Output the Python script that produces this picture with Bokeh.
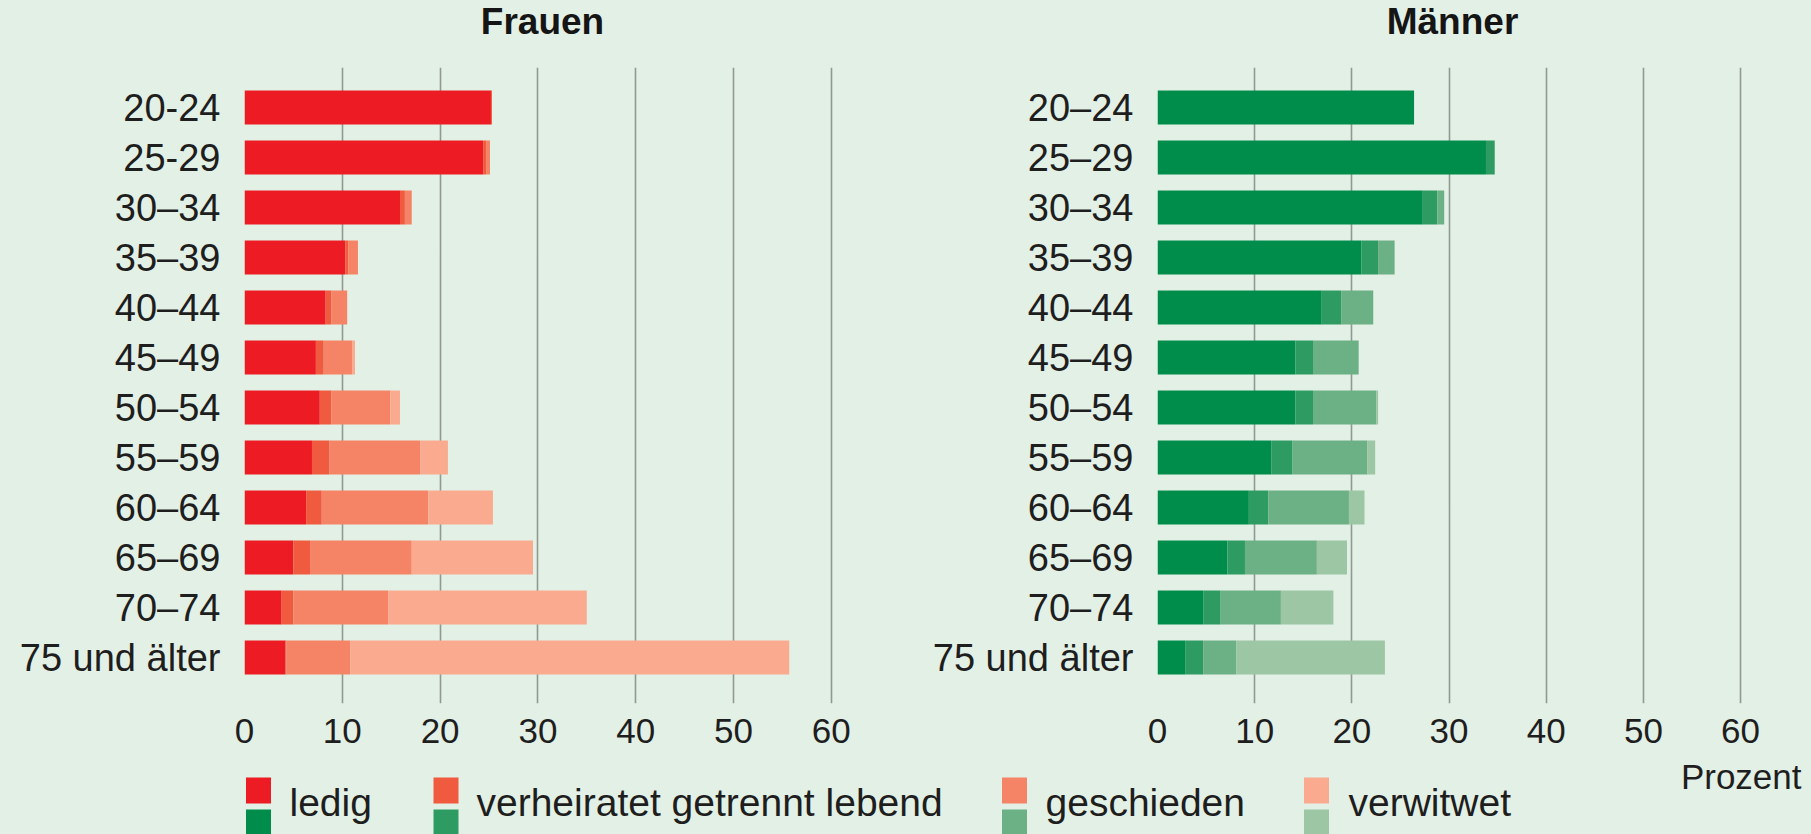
from bokeh.plotting import figure
from bokeh.layouts import row, column
from bokeh.models import ColumnDataSource, Range1d, FixedTicker
from bokeh.core.properties import value
from bokeh.embed import file_html
from bokeh.resources import INLINE

# ---------------- data ----------------
ages_f = ["20-24", "25-29", "30–34", "35–39", "40–44", "45–49", "50–54",
          "55–59", "60–64", "65–69", "70–74", "75 und älter"]
ages_m = ["20–24", "25–29", "30–34", "35–39", "40–44", "45–49", "50–54",
          "55–59", "60–64", "65–69", "70–74", "75 und älter"]
panel_titles = ["Frauen", "Männer"]
status = ["ledig", "verheiratet getrennt lebend", "geschieden", "verwitwet"]
unit_label = ["Prozent"]

f_ledig    = [25.2, 24.4, 15.9, 10.3, 8.3, 7.3, 7.7, 6.9, 6.3, 5.0, 3.8, 4.2]
f_getrennt = [0.1, 0.3, 0.5, 0.3, 0.6, 0.8, 1.2, 1.8, 1.6, 1.7, 1.2, 0.1]
f_gesch    = [0.0, 0.4, 0.7, 1.0, 1.6, 2.9, 6.0, 9.3, 10.9, 10.4, 9.7, 6.5]
f_verw     = [0.0, 0.0, 0.0, 0.0, 0.0, 0.3, 1.0, 2.8, 6.6, 12.4, 20.3, 44.9]

m_ledig    = [26.4, 33.8, 27.3, 21.0, 16.9, 14.2, 14.2, 11.7, 9.4, 7.2, 4.7, 2.9]
m_getrennt = [0.0, 0.9, 1.5, 1.7, 2.0, 1.8, 1.8, 2.2, 2.0, 1.8, 1.8, 1.8]
m_gesch    = [0.0, 0.0, 0.7, 1.7, 3.3, 4.7, 6.5, 7.7, 8.3, 7.4, 6.2, 3.4]
m_verw     = [0.0, 0.0, 0.0, 0.0, 0.0, 0.0, 0.2, 0.8, 1.6, 3.1, 5.4, 15.3]

x_ticks = [0, 10, 20, 30, 40, 50, 60]

# ---------------- style ----------------
BG = "#e3f0e5"
TXT = "#1e1e1e"
GRID = "#8f9a92"
FONT = "Liberation Sans"
red_cols = ["#ed1c24", "#f05a3e", "#f58466", "#f9aa8f"]
green_cols = ["#008c4a", "#2e9c62", "#6cb086", "#9dc6a5"]
keys = ["ledig", "getrennt", "gesch", "verw"]
TOP_H = 55


def strip(height, y0):
    s = figure(width=1811, height=height, output_backend="svg",
               toolbar_location=None,
               x_range=Range1d(0, 1811), y_range=Range1d(y0 + height, y0),
               min_border=0, min_border_left=0, min_border_right=0,
               min_border_top=0, min_border_bottom=0)
    s.title.visible = False
    s.axis.visible = False
    s.grid.visible = False
    s.background_fill_color = BG
    s.border_fill_color = BG
    s.outline_line_color = None
    return s


def panel(ages, vals, cols, width, border_left, border_right, xmax):
    src = ColumnDataSource(dict(y=list(range(len(ages))),
                                ledig=vals[0], getrennt=vals[1],
                                gesch=vals[2], verw=vals[3]))
    p = figure(width=width, height=755 - TOP_H, output_backend="svg",
               toolbar_location=None,
               x_range=Range1d(0, xmax),
               y_range=Range1d(len(ages) - 1 + 0.92, -0.8),
               min_border_left=border_left, min_border_right=border_right,
               min_border_top=67 - TOP_H, min_border_bottom=52)
    p.hbar_stack(keys, y="y", height=0.68, color=cols, line_color=None,
                 source=src)
    p.title.visible = False
    p.background_fill_color = BG
    p.border_fill_color = BG
    p.outline_line_color = None

    p.xaxis.ticker = FixedTicker(ticks=x_ticks)
    p.xaxis.axis_line_color = None
    p.xaxis.major_tick_line_color = None
    p.xaxis.major_tick_out = 0
    p.xaxis.major_tick_in = 0
    p.xaxis.minor_tick_line_color = None
    p.xaxis.major_label_standoff = 15
    p.xaxis.major_label_text_font = FONT
    p.xaxis.major_label_text_font_size = "35px"
    p.xaxis.major_label_text_color = TXT

    p.yaxis.ticker = FixedTicker(ticks=list(range(len(ages))))
    p.yaxis.major_label_overrides = {i: a for i, a in enumerate(ages)}
    p.yaxis.axis_line_color = None
    p.yaxis.major_tick_line_color = None
    p.yaxis.major_tick_out = 0
    p.yaxis.major_tick_in = 0
    p.yaxis.minor_tick_line_color = None
    p.yaxis.major_label_standoff = 24
    p.yaxis.major_label_text_font = FONT
    p.yaxis.major_label_text_font_size = "38px"
    p.yaxis.major_label_text_color = TXT

    p.ygrid.grid_line_color = None
    p.xgrid.ticker = FixedTicker(ticks=x_ticks)
    p.xgrid.grid_line_color = GRID
    p.xgrid.grid_line_width = 1.6
    return p


# ---------------- titles strip ----------------
top = strip(TOP_H, 0)
top.text(x=[542, 1452], y=[21, 21], text=panel_titles, text_font=value(FONT),
         text_font_size="37px", text_font_style="bold", text_color="#151515",
         text_align="center", text_baseline="alphabetic")

p1 = panel(ages_f, [f_ledig, f_getrennt, f_gesch, f_verw],
           red_cols, 900, 244, 60, 60.94)
p2 = panel(ages_m, [m_ledig, m_getrennt, m_gesch, m_verw],
           green_cols, 911, 257, 68, 60.3)

# ---------------- legend strip ----------------
leg = strip(79, 755)
sq_x = [258, 445.5, 1014, 1316]
txt_x = [289, 476, 1045, 1348]
leg.rect(x=sq_x, y=[790] * 4, width=25, height=26, color=red_cols,
         line_color=None)
leg.rect(x=sq_x, y=[822] * 4, width=25, height=26, color=green_cols,
         line_color=None)
leg.text(x=txt_x, y=[802] * 4, text=status, text_font=value(FONT),
         text_font_size="39px", text_color=TXT, text_baseline="alphabetic")
leg.text(x=[1801], y=[776], text=unit_label, text_font=value(FONT),
         text_font_size="35px", text_color=TXT, text_align="right",
         text_baseline="alphabetic")

layout = column(top, row(p1, p2), leg)

html = file_html(layout, INLINE)
html = html.replace("<head>", "<head><style>html,body{background:%s;}</style>" % BG, 1)
open("out.html", "w").write(html)
